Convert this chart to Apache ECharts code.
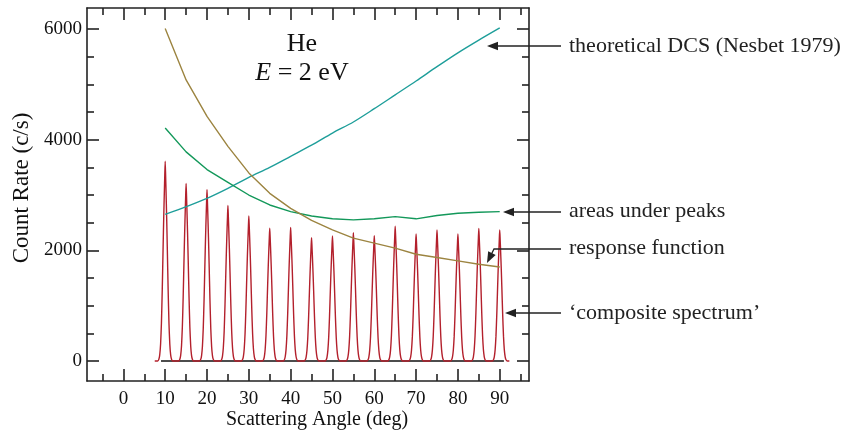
<!DOCTYPE html>
<html>
<head>
<meta charset="utf-8">
<script src="https://cdn.jsdelivr.net/npm/echarts@6/dist/echarts.min.js"></script>
<style>html,body{margin:0;padding:0;background:#fff}#c{width:842px;height:436px}</style>
</head>
<body>
<div id="c"></div>
<script>
// ---- data ----
const angles = [10,15,20,25,30,35,40,45,50,55,60,65,70,75,80,85,90];
const dcsValues = [2650,2790,2940,3120,3320,3500,3700,3900,4120,4320,4560,4810,5060,5320,5570,5800,6020];
const areaValues = [4210,3780,3460,3230,3000,2820,2700,2620,2570,2550,2570,2610,2570,2630,2670,2690,2700];
const responseValues = [6010,5080,4420,3880,3400,3030,2760,2540,2370,2220,2130,2040,1930,1870,1810,1750,1700];
const peakHeights = [3610,3210,3100,2810,2620,2400,2415,2230,2260,2320,2265,2435,2295,2367,2295,2397,2367];
// shape of one peak in the composite spectrum (offset in deg, fraction of peak height)
const peakOffsets = [-1.8,-1.5,-1.3,-1.1,-0.9,-0.7,-0.5,-0.35,-0.2,-0.1,0,0.1,0.2,0.35,0.5,0.7,0.9,1.1,1.3,1.5,1.8];
const peakShape   = [0,0.01,0.032,0.085,0.19,0.36,0.57,0.72,0.85,0.93,1,0.93,0.85,0.72,0.57,0.36,0.19,0.085,0.032,0.01,0];
const spectrumStart = 7.5, spectrumEnd = 92.3;
const baselineRange = [9, 91];
const xMajorTicks = [0,10,20,30,40,50,60,70,80,90];
const xMinorTicks = [-5,5,15,25,35,45,55,65,75,85,95];
const yMajorTicks = [0,2000,4000,6000];
const yMinorTicks = [500,1000,1500,2500,3000,3500,4500,5000,5500];

// ---- build series data ----
const pairs = (xs, ys) => xs.map((x, i) => [x, ys[i]]);
const spectrum = [[spectrumStart, 0]];
angles.forEach((c, i) => {
  peakOffsets.forEach((o, j) => spectrum.push([c + o, peakHeights[i] * peakShape[j]]));
});
spectrum.push([spectrumEnd, 0]);

const FONT = 'Liberation Serif';
const AX = '#222';
const xMin = -8.7, xMax = 97, yMin = -361, yMax = 6380;

function xAx(pos, ticks, len, showLine, showLabel) {
  return {
    type: 'value', position: pos, min: xMin, max: xMax, offset: 0,
    axisLine: { show: showLine, onZero: false, lineStyle: { color: AX, width: 1.6 } },
    axisTick: { show: true, inside: true, length: len, customValues: ticks, lineStyle: { color: AX, width: 1.6 } },
    axisLabel: { show: showLabel, customValues: ticks, margin: 9, color: '#111', fontFamily: FONT, fontSize: 19, formatter: v => String(v) },
    splitLine: { show: false }
  };
}
function yAx(pos, ticks, len, showLine, showLabel) {
  return {
    type: 'value', position: pos, min: yMin, max: yMax, offset: 0,
    axisLine: { show: showLine, onZero: false, lineStyle: { color: AX, width: 1.6 } },
    axisTick: { show: true, inside: true, length: len, customValues: ticks, lineStyle: { color: AX, width: 1.6 } },
    axisLabel: { show: showLabel, customValues: ticks, margin: 5, color: '#111', fontFamily: FONT, fontSize: 19, formatter: v => String(v) },
    splitLine: { show: false }
  };
}

function arrow(pts) {
  const n = pts.length;
  const [x1, y1] = pts[n - 2], [x2, y2] = pts[n - 1];
  const dx = x2 - x1, dy = y2 - y1, L = Math.hypot(dx, dy);
  const ux = dx / L, uy = dy / L, len = 11, hw = 4.2;
  const bx = x2 - ux * len, by = y2 - uy * len;
  const shaft = pts.slice(0, n - 1).concat([[bx + ux * 2, by + uy * 2]]);
  return [
    { type: 'polyline', shape: { points: shaft }, style: { stroke: '#222', lineWidth: 1.3, fill: null }, z: 100 },
    { type: 'polygon', shape: { points: [[x2, y2], [bx - uy * hw, by + ux * hw], [bx + uy * hw, by - ux * hw]] }, style: { fill: '#222' }, z: 100 }
  ];
}
function label(x, y, text) {
  return { type: 'text', x: x, y: y, style: { text: text, font: '22px "' + FONT + '"', fill: '#222', align: 'left', verticalAlign: 'middle' }, z: 100 };
}

const chart = echarts.init(document.getElementById('c'), null, { renderer: 'canvas' });
chart.setOption({
  animation: false,
  backgroundColor: '#fff',
  grid: { left: 87, top: 8, right: 313, bottom: 55 },
  xAxis: [
    xAx('bottom', xMajorTicks, 12, true, true),
    xAx('bottom', xMinorTicks, 7, false, false),
    xAx('top', xMajorTicks, 12, true, false),
    xAx('top', xMinorTicks, 7, false, false)
  ],
  yAxis: [
    yAx('left', yMajorTicks, 12, true, true),
    yAx('left', yMinorTicks, 7, false, false),
    yAx('right', yMajorTicks, 12, true, false),
    yAx('right', yMinorTicks, 7, false, false)
  ],
  series: [
    { name: 'baseline', type: 'line', data: [[baselineRange[0], 0], [baselineRange[1], 0]], symbol: 'none', lineStyle: { color: '#111', width: 1.6 }, z: 1 },
    { name: 'composite spectrum', type: 'line', data: spectrum, symbol: 'none', smooth: 0.2, lineStyle: { color: '#b3202c', width: 1.4 }, z: 2 },
    { name: 'theoretical DCS', type: 'line', data: pairs(angles, dcsValues), symbol: 'none', smooth: 0.3, lineStyle: { color: '#1e9e9a', width: 1.4 }, z: 3 },
    { name: 'areas under peaks', type: 'line', data: pairs(angles, areaValues), symbol: 'none', lineStyle: { color: '#13985a', width: 1.4 }, z: 3 },
    { name: 'response function', type: 'line', data: pairs(angles, responseValues), symbol: 'none', lineStyle: { color: '#9c8440', width: 1.4 }, z: 3 }
  ],
  graphic: [
    { type: 'text', x: 302, y: 44, style: { text: 'He', font: '26px "' + FONT + '"', fill: '#111', align: 'center', verticalAlign: 'middle' }, z: 100 },
    { type: 'text', x: 302, y: 73, style: { text: '{i|E} = 2 eV', font: '26px "' + FONT + '"', fill: '#111', align: 'center', verticalAlign: 'middle',
        rich: { i: { fontStyle: 'italic', fontFamily: FONT, fontSize: 26, fill: '#111' } } }, z: 100 },
    { type: 'text', x: 22, y: 188, rotation: Math.PI / 2, style: { text: 'Count Rate (c/s)', font: '23px "' + FONT + '"', fill: '#111', align: 'center', verticalAlign: 'middle' }, z: 100 },
    { type: 'text', x: 317, y: 420, style: { text: 'Scattering Angle (deg)', font: '20px "' + FONT + '"', fill: '#111', align: 'center', verticalAlign: 'middle' }, z: 100 },
    label(569, 46, 'theoretical DCS (Nesbet 1979)'),
    label(569, 211, 'areas under peaks'),
    label(569, 248, 'response function'),
    label(569, 313, '\u2018composite spectrum\u2019'),
    ...arrow([[561, 46], [487, 46]]),
    ...arrow([[561, 212], [503, 212]]),
    ...arrow([[561, 249], [494, 249], [487, 263]]),
    ...arrow([[561, 313], [505, 313]])
  ]
});
</script>
</body>
</html>
